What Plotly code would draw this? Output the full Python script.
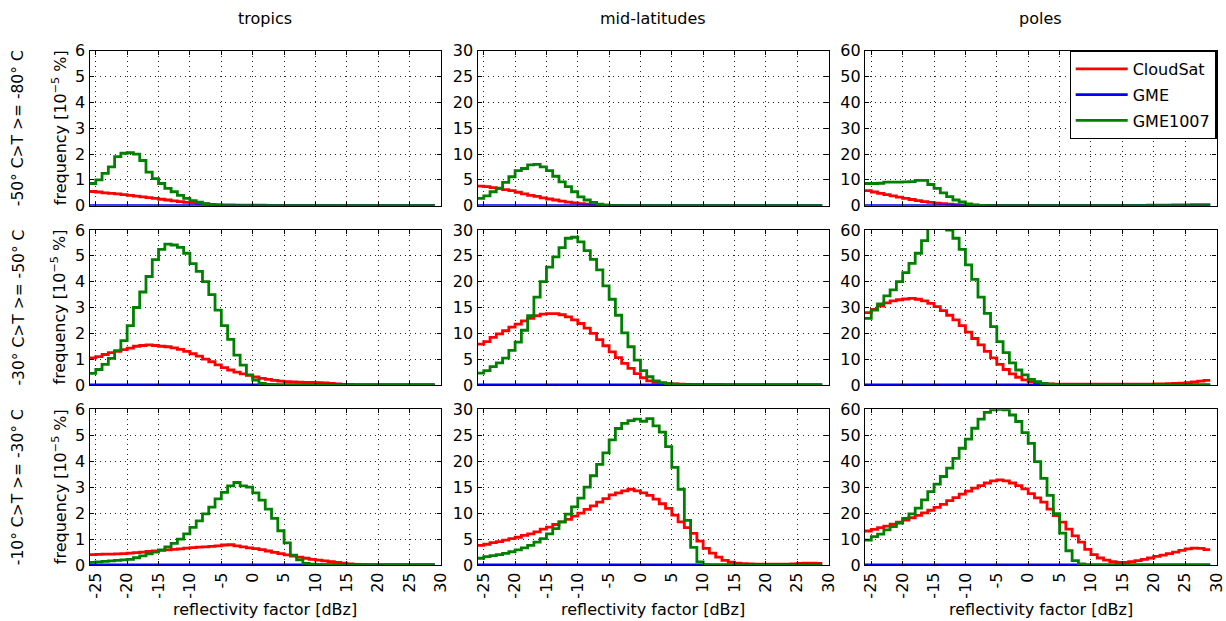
import plotly.graph_objects as go
from plotly.subplots import make_subplots

# ---------------- data ----------------
# bin edges of the reflectivity histogram [dBz]; 55 bins of 1 dBz from -26 to 29
bin_edges = [-26, -25, -24, -23, -22, -21, -20, -19, -18, -17, -16, -15, -14, -13,
             -12, -11, -10, -9, -8, -7, -6, -5, -4, -3, -2, -1, 0, 1, 2, 3, 4, 5,
             6, 7, 8, 9, 10, 11, 12, 13, 14, 15, 16, 17, 18, 19, 20, 21, 22, 23,
             24, 25, 26, 27, 28, 29]

regions = ["tropics", "mid-latitudes", "poles"]
temp_ranges = ["-50° C>T >= -80° C", "-30° C>T >= -50° C", "-10° C>T >= -30° C"]
series_names = ["CloudSat", "GME", "GME1007"]
series_colors = ["#ff0000", "#0000ff", "#008000"]
y_max = [6, 30, 60]
y_step = [1, 5, 10]
x_ticks = [-25, -20, -15, -10, -5, 0, 5, 10, 15, 20, 25, 30]
x_tick_labels = ["-25", "-20", "-15", "-10", "-5", "0", "5", "10", "15", "20", "25", "30"]

# GME model (no signal in any panel)
gme = [0, 0, 0, 0, 0, 0, 0, 0, 0, 0, 0, 0, 0, 0, 0, 0, 0, 0, 0, 0, 0, 0, 0, 0,
       0, 0, 0, 0, 0, 0, 0, 0, 0, 0, 0, 0, 0, 0, 0, 0, 0, 0, 0, 0, 0, 0, 0, 0,
       0, 0, 0, 0, 0, 0, 0]

# row 1 : -50 C > T >= -80 C
cloudsat_tropics_1 = [0.55, 0.53, 0.5, 0.48, 0.46, 0.43, 0.4, 0.37, 0.34, 0.31,
                      0.28, 0.25, 0.22, 0.19, 0.16, 0.13, 0.11, 0.09, 0.07, 0.05,
                      0.04, 0.03, 0.03, 0.02, 0.02, 0.02, 0.02, 0.02, 0.01, 0.01,
                      0.01, 0.01, 0.01, 0.01, 0.01, 0.01, 0.01, 0.01, 0.01, 0.01,
                      0.01, 0, 0, 0, 0, 0, 0, 0, 0, 0, 0, 0, 0, 0, 0]
gme1007_tropics_1 = [0.86, 1.0, 1.25, 1.5, 1.9, 2.03, 2.05, 2.0, 1.75, 1.3,
                     1.05, 0.86, 0.67, 0.54, 0.4, 0.28, 0.2, 0.14, 0.08, 0.04,
                     0.01, 0, 0, 0, 0, 0, 0, 0, 0, 0, 0, 0, 0, 0, 0, 0, 0, 0, 0, 0,
                     0, 0, 0, 0, 0, 0, 0, 0, 0, 0, 0, 0, 0, 0, 0]
cloudsat_midlat_1 = [3.8, 3.7, 3.5, 3.3, 3.1, 2.9, 2.6, 2.3, 2.0, 1.8,
                     1.5, 1.3, 1.1, 0.9, 0.7, 0.55, 0.4, 0.3, 0.2, 0.15,
                     0.1, 0.08, 0.06, 0.05, 0.04, 0.03, 0.03, 0.03, 0.02, 0.02,
                     0.02, 0.02, 0.02, 0.02, 0.02, 0.02, 0.02, 0.02, 0.02, 0.02,
                     0.02, 0, 0, 0, 0, 0, 0, 0, 0, 0, 0, 0, 0, 0, 0]
gme1007_midlat_1 = [1.4, 1.9, 2.7, 3.4, 4.5, 5.6, 6.8, 7.2, 7.9, 8.0,
                    7.5, 6.8, 5.7, 4.6, 3.7, 2.7, 1.7, 1.1, 0.65, 0.3,
                    0.1, 0.02, 0, 0, 0, 0, 0, 0, 0, 0, 0, 0, 0, 0, 0, 0, 0, 0, 0, 0,
                    0, 0, 0, 0, 0, 0, 0, 0, 0, 0, 0, 0, 0, 0, 0]
cloudsat_poles_1 = [5.8, 5.3, 4.8, 4.3, 3.8, 3.3, 2.8, 2.4, 2.0, 1.6,
                    1.3, 1.0, 0.8, 0.6, 0.45, 0.35, 0.25, 0.2, 0.15, 0.12,
                    0.1, 0.1, 0.1, 0.1, 0.1, 0.1, 0.1, 0.1, 0.1, 0.1,
                    0.1, 0.1, 0.1, 0.1, 0.1, 0.1, 0.1, 0.1, 0.1, 0.1,
                    0.12, 0.12, 0.15, 0.15, 0.15, 0.18, 0.2, 0.22, 0.25, 0.28,
                    0.3, 0.33, 0.36, 0.4, 0.4]
gme1007_poles_1 = [8.6, 8.6, 8.7, 9.1, 9.1, 9.1, 9.2, 9.3, 9.8, 9.8,
                   8.2, 6.7, 5.0, 3.5, 2.2, 1.5, 0.65, 0.3, 0.1, 0.03,
                   0, 0, 0, 0, 0, 0, 0, 0, 0, 0, 0, 0, 0, 0, 0, 0, 0, 0, 0, 0,
                   0, 0, 0, 0, 0, 0, 0, 0, 0, 0, 0, 0, 0, 0, 0]

# row 2 : -30 C > T >= -50 C
cloudsat_tropics_2 = [1.05, 1.1, 1.18, 1.25, 1.3, 1.37, 1.43, 1.5, 1.53, 1.55,
                      1.53, 1.5, 1.48, 1.44, 1.38, 1.3, 1.21, 1.12, 1.0, 0.9,
                      0.78, 0.67, 0.58, 0.5, 0.43, 0.37, 0.31, 0.26, 0.22, 0.18,
                      0.15, 0.13, 0.12, 0.11, 0.1, 0.1, 0.09, 0.08, 0.06, 0.04,
                      0.02, 0.01, 0, 0, 0, 0, 0, 0, 0, 0, 0, 0, 0, 0, 0]
gme1007_tropics_2 = [0.45, 0.6, 0.8, 1.03, 1.33, 1.72, 2.3, 3.0, 3.6, 4.2,
                     4.85, 5.25, 5.45, 5.42, 5.33, 5.1, 4.7, 4.4, 4.0, 3.5,
                     2.9, 2.3, 1.77, 1.16, 0.77, 0.39, 0.19, 0.06, 0.02, 0.01,
                     0, 0, 0, 0, 0, 0, 0, 0, 0, 0, 0, 0, 0, 0, 0, 0, 0, 0, 0, 0,
                     0, 0, 0, 0, 0]
cloudsat_midlat_2 = [7.9, 8.4, 9.2, 9.9, 10.5, 11.2, 11.8, 12.4, 12.9, 13.4,
                     13.7, 13.8, 13.8, 13.6, 13.2, 12.6, 11.9, 11.0, 10.0, 8.8,
                     7.6, 6.4, 5.3, 4.2, 3.2, 2.2, 1.4, 0.8, 0.5, 0.35,
                     0.25, 0.2, 0.15, 0.1, 0.08, 0.06, 0.05, 0.05, 0.05, 0.04,
                     0.04, 0.03, 0.02, 0.01, 0, 0, 0, 0, 0, 0, 0, 0, 0, 0, 0]
gme1007_midlat_2 = [2.3, 2.8, 3.55, 4.3, 5.2, 6.7, 8.3, 10.6, 13.4, 17.0,
                    20.0, 22.8, 24.8, 26.6, 28.4, 28.6, 27.7, 26.0, 24.3, 22.3,
                    19.2, 16.6, 13.5, 10.1, 7.4, 4.8, 2.8, 1.6, 0.8, 0.45,
                    0.25, 0.15, 0.1, 0.05, 0.02, 0, 0, 0, 0, 0, 0, 0, 0, 0, 0,
                    0, 0, 0, 0, 0, 0, 0, 0, 0, 0]
cloudsat_poles_2 = [28.0, 29.3, 30.5, 31.8, 32.6, 33.0, 33.3, 33.5, 33.2, 32.6,
                    31.6, 30.3, 28.8, 27.0, 25.2, 23.0, 20.5, 18.0, 15.5, 13.0,
                    10.5, 8.0, 6.0, 4.3, 3.0, 2.0, 1.3, 0.8, 0.5, 0.4,
                    0.3, 0.3, 0.3, 0.3, 0.3, 0.3, 0.3, 0.3, 0.3, 0.3,
                    0.3, 0.3, 0.3, 0.3, 0.3, 0.35, 0.4, 0.45, 0.5, 0.6,
                    0.7, 0.9, 1.2, 1.5, 1.8]
gme1007_poles_2 = [25.8, 29.0, 31.4, 34.5, 36.8, 40.0, 43.5, 47.1, 51.0, 55.9,
                   62.0, 63.5, 62.5, 60.0, 56.8, 52.5, 46.5, 40.9, 34.0, 27.7,
                   22.6, 16.8, 12.5, 8.6, 5.8, 3.9, 2.2, 1.3, 0.65, 0.3,
                   0.15, 0.05, 0, 0, 0, 0, 0, 0, 0, 0, 0, 0, 0, 0, 0,
                   0, 0, 0, 0, 0, 0, 0, 0, 0, 0]

# row 3 : -10 C > T >= -30 C
cloudsat_tropics_3 = [0.4, 0.41, 0.42, 0.42, 0.43, 0.44, 0.46, 0.48, 0.5, 0.52,
                      0.54, 0.56, 0.58, 0.6, 0.62, 0.65, 0.67, 0.69, 0.7, 0.72,
                      0.74, 0.77, 0.78, 0.74, 0.7, 0.66, 0.63, 0.59, 0.54, 0.49,
                      0.44, 0.39, 0.34, 0.3, 0.26, 0.22, 0.19, 0.16, 0.13, 0.1,
                      0.07, 0.04, 0.02, 0.01, 0, 0, 0, 0, 0, 0, 0, 0, 0, 0, 0]
gme1007_tropics_3 = [0.1, 0.12, 0.14, 0.16, 0.18, 0.2, 0.22, 0.28, 0.35, 0.43,
                     0.5, 0.58, 0.7, 0.83, 1.0, 1.2, 1.45, 1.7, 1.97, 2.23,
                     2.55, 2.8, 3.05, 3.18, 3.05, 3.0, 2.78, 2.5, 2.15, 1.8,
                     1.32, 0.85, 0.38, 0.2, 0.06, 0.03, 0.02, 0.01, 0.01, 0.01,
                     0, 0, 0, 0, 0, 0, 0, 0, 0, 0, 0, 0, 0, 0, 0]
cloudsat_midlat_3 = [3.8, 4.0, 4.3, 4.5, 4.8, 5.1, 5.35, 5.7, 6.0, 6.4,
                     6.9, 7.3, 7.8, 8.3, 8.8, 9.4, 10.0, 10.7, 11.4, 12.1,
                     12.8, 13.5, 13.9, 14.3, 14.6, 14.3, 13.9, 13.4, 12.7, 11.8,
                     10.9, 9.6, 8.3, 7.2, 6.1, 4.6, 3.2, 2.3, 1.5, 0.9,
                     0.55, 0.35, 0.25, 0.2, 0.15, 0.15, 0.15, 0.15, 0.15, 0.15,
                     0.2, 0.3, 0.35, 0.35, 0.3]
gme1007_midlat_3 = [1.3, 1.6, 1.8, 2.0, 2.25, 2.55, 2.9, 3.3, 3.8, 4.4,
                    5.1, 6.0, 7.0, 8.3, 9.8, 11.2, 12.9, 15.0, 17.2, 19.4,
                    21.6, 24.1, 26.3, 27.3, 27.8, 28.1, 27.7, 28.2, 26.8, 25.6,
                    22.8, 18.8, 14.6, 8.6, 3.4, 0.6, 0.05, 0, 0, 0,
                    0, 0, 0, 0, 0, 0, 0, 0, 0, 0, 0, 0, 0, 0, 0]
cloudsat_poles_3 = [13.1, 13.7, 14.4, 15.0, 15.7, 16.5, 17.3, 18.2, 19.1, 20.1,
                    21.1, 22.2, 23.4, 24.8, 26.0, 27.3, 28.5, 29.6, 30.6, 31.6,
                    32.4, 32.8, 32.4, 31.6, 30.6, 29.3, 27.5, 25.9, 24.2, 21.5,
                    19.0, 16.5, 13.8, 11.2, 8.8, 6.0, 4.0, 2.7, 1.9, 1.3,
                    1.0, 1.0, 1.3, 1.7, 2.2, 2.7, 3.3, 3.8, 4.4, 5.0,
                    5.6, 6.2, 6.5, 6.4, 5.9]
gme1007_poles_3 = [9.6, 10.9, 11.9, 13.5, 14.8, 16.1, 18.0, 19.7, 21.9, 25.1,
                   28.3, 31.2, 34.1, 37.3, 41.1, 45.0, 48.5, 52.7, 56.2, 58.8,
                   59.8, 60.0, 59.8, 57.8, 55.3, 51.0, 46.9, 39.8, 33.4, 26.8,
                   19.8, 12.3, 5.5, 1.7, 0.4, 0, 0, 0, 0, 0, 0, 0, 0, 0, 0,
                   0, 0, 0, 0, 0, 0, 0, 0, 0, 0]

panels = [
    [(cloudsat_tropics_1, gme, gme1007_tropics_1),
     (cloudsat_midlat_1, gme, gme1007_midlat_1),
     (cloudsat_poles_1, gme, gme1007_poles_1)],
    [(cloudsat_tropics_2, gme, gme1007_tropics_2),
     (cloudsat_midlat_2, gme, gme1007_midlat_2),
     (cloudsat_poles_2, gme, gme1007_poles_2)],
    [(cloudsat_tropics_3, gme, gme1007_tropics_3),
     (cloudsat_midlat_3, gme, gme1007_midlat_3),
     (cloudsat_poles_3, gme, gme1007_poles_3)],
]

# ---------------- figure ----------------
W, H = 1226, 621
FONT = "DejaVu Sans"
col_px = [(89.5, 441.0), (477.5, 828.5), (865.0, 1216.5)]
row_px = [(50.7, 205.7), (230.0, 385.0), (409.3, 565.0)]
col_dom = [[a / W, b / W] for a, b in col_px]
row_dom = [[1 - b / H, 1 - a / H] for a, b in row_px]

fig = make_subplots(rows=3, cols=3)

for r in range(3):
    for c in range(3):
        for s in range(3):
            vals = panels[r][c][s]
            fig.add_trace(
                go.Scatter(
                    x=bin_edges,
                    y=list(vals) + [vals[-1]],
                    mode="lines",
                    line=dict(color=series_colors[s], width=2.8, shape="hv"),
                    name=series_names[s],
                    legendgroup=series_names[s],
                    showlegend=(r == 0 and c == 0),
                    hoverinfo="skip",
                ),
                row=r + 1, col=c + 1,
            )
        fig.update_xaxes(
            domain=col_dom[c], range=[-26, 30],
            tickmode="array", tickvals=x_ticks, ticktext=x_tick_labels,
            showticklabels=(r == 2), tickangle=-90,
            row=r + 1, col=c + 1,
        )
        fig.update_yaxes(
            domain=row_dom[r], range=[0, y_max[c]], dtick=y_step[c], tick0=0,
            row=r + 1, col=c + 1,
        )

axis_style = dict(
    showline=True, linecolor="black", linewidth=1.2, mirror="ticks",
    ticks="inside", ticklen=4, tickcolor="black", tickwidth=1,
    showgrid=True, gridcolor="#222222", gridwidth=1, griddash="1px,4px",
    zeroline=False, automargin=False,
    tickfont=dict(family=FONT, size=16, color="black"),
)
fig.update_xaxes(**axis_style)
fig.update_yaxes(**axis_style)

ann = []
for c in range(3):
    cx = (col_dom[c][0] + col_dom[c][1]) / 2
    ann.append(dict(text=regions[c], x=cx, y=1 - 18 / H, xref="paper", yref="paper",
                    showarrow=False, font=dict(family=FONT, size=16, color="black"),
                    xanchor="center", yanchor="middle"))
    ann.append(dict(text="reflectivity factor [dBz]", x=cx, y=1 - 609 / H,
                    xref="paper", yref="paper", showarrow=False,
                    font=dict(family=FONT, size=16, color="black"),
                    xanchor="center", yanchor="middle"))
for r in range(3):
    cy = (row_dom[r][0] + row_dom[r][1]) / 2
    ann.append(dict(text=temp_ranges[r], x=18 / W, y=cy, xref="paper", yref="paper",
                    showarrow=False, textangle=-90,
                    font=dict(family=FONT, size=15.5, color="black"),
                    xanchor="center", yanchor="middle"))
    ann.append(dict(text="frequency [10<sup>−5</sup> %]", x=59 / W, y=cy,
                    xref="paper", yref="paper", showarrow=False, textangle=-90,
                    font=dict(family=FONT, size=16, color="black"),
                    xanchor="center", yanchor="middle"))

fig.update_layout(
    width=W, height=H, autosize=False,
    margin=dict(l=0, r=0, t=0, b=0, pad=0),
    paper_bgcolor="white", plot_bgcolor="white",
    annotations=ann,
    showlegend=True,
    legend=dict(
        x=col_dom[2][1], y=row_dom[0][1], xanchor="right", yanchor="top",
        bordercolor="black", borderwidth=1.2, bgcolor="white",
        font=dict(family=FONT, size=16, color="black"),
        traceorder="grouped", tracegroupgap=2, itemwidth=52,
    ),
)

# remove the browser's default 8px page margin so the figure fills the window
fig.write_html(
    "out.html",
    config={"displayModeBar": False},
    post_script="document.body.style.margin='0';document.body.style.padding='0';",
)
